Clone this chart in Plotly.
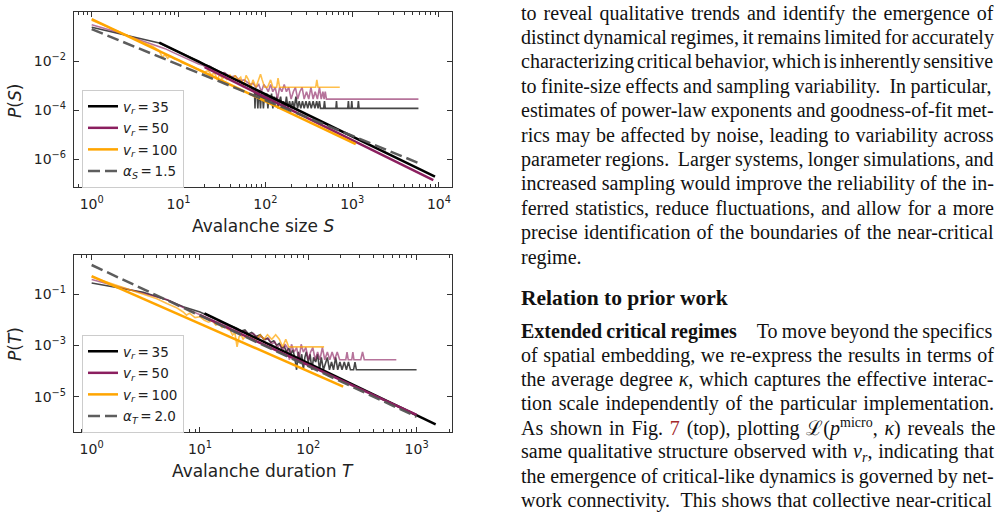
import plotly.graph_objects as go

# ---------------- DATA ----------------
# Top panel: avalanche size distribution P(S)
raw35_S = [(1,2.4e-1),(2,1.35e-1),(3,9.3e-2),(5,6.2e-2),(6,5.4e-2),(8,3.4e-2),(10,2.3e-2),(12,1.7e-2),(14,1.35e-2),(17,1.0e-2),
           (20,7.2e-3),(23,6.0e-3),(26,4.6e-3),(30,3.6e-3),(34,3.0e-3),(38,2.4e-3),(43,1.9e-3),(48,1.7e-3),(54,1.3e-3),(60,1.1e-3),
           (66,9e-4),(72,7e-4),(75,5.9e-4),(76,1.17e-4),(77,5.9e-4),(80,4.7e-4),(82,1.17e-4),(84,5.9e-4),(86,3.5e-4),(88,1.17e-4),
           (90,4.7e-4),(93,3.5e-4),(95,1.17e-4),(98,4.7e-4),(101,2.3e-4),(104,4.7e-4),(107,1.17e-4),(110,3.5e-4),(114,2.3e-4),(118,4.7e-4),
           (122,1.17e-4),(126,3.5e-4),(130,2.3e-4),(135,3.5e-4),(140,1.17e-4),(145,2.3e-4),(150,3.5e-4),(156,1.17e-4),(162,2.3e-4),(168,1.17e-4),
           (175,3.5e-4),(182,1.17e-4),(190,2.3e-4),(198,1.17e-4),(206,2.3e-4),(215,1.17e-4),(225,3.5e-4),(235,1.17e-4),(245,2.3e-4),(256,1.17e-4),
           (268,2.3e-4),(280,1.17e-4),(294,2.3e-4),(308,1.17e-4),(322,2.3e-4),(338,1.17e-4),(355,2.3e-4),(372,1.17e-4),(390,2.3e-4),(405,1.17e-4),
           (420,2.3e-4),(432,1.17e-4),(470,1.17e-4),(480,2.3e-4),(490,1.17e-4),(650,1.17e-4),(660,2.3e-4),(670,1.17e-4),(890,1.17e-4),(905,2.3e-4),
           (920,1.17e-4),(975,1.17e-4),(990,2.3e-4),(1005,1.17e-4),(1160,1.17e-4),(1180,2.3e-4),(1200,1.17e-4),(5800,1.17e-4)]
raw50_S = [(1,3.0e-1),(2,1.5e-1),(3,9.0e-2),(5,5.0e-2),(7,3.2e-2),(9,2.1e-2),(11,1.5e-2),(13,1.15e-2),(15,9.5e-3),(17,7.5e-3),
           (19,6.8e-3),(21,5.2e-3),(23,6.0e-3),(25,4.4e-3),(28,4.0e-3),(31,3.2e-3),(34,3.4e-3),(37,2.6e-3),(41,2.3e-3),(45,2.5e-3),
           (49,1.8e-3),(53,1.6e-3),(57,1.7e-3),(62,1.3e-3),(67,1.1e-3),(72,1.25e-3),(78,8.4e-4),(84,1.1e-3),(90,5.6e-4),(96,1.1e-3),
           (102,8.4e-4),(108,5.6e-4),(115,1.1e-3),(122,5.6e-4),(130,8.4e-4),(138,2.8e-4),(146,8.4e-4),(155,5.6e-4),(165,1.1e-3),(175,5.6e-4),
           (186,8.4e-4),(198,2.8e-4),(210,5.6e-4),(222,8.4e-4),(236,2.8e-4),(250,5.6e-4),(265,8.4e-4),(280,2.8e-4),(298,5.6e-4),(316,2.8e-4),
           (335,8.4e-4),(355,2.8e-4),(375,5.6e-4),(398,2.8e-4),(420,8.4e-4),(440,2.8e-4),(460,5.6e-4),(475,2.8e-4),(490,5.6e-4),(505,2.8e-4),
           (5800,2.8e-4)]
raw100_S = [(1,4.6e-1),(2,1.7e-1),(3,9.0e-2),(4,5.5e-2),(5,4.0e-2),(6,2.6e-2),(6.5,1.4e-2),(7,1.8e-2),(7.5,1.3e-2),(8,1.6e-2),
            (9,1.2e-2),(10,1.1e-2),(11,8.5e-3),(12,7.5e-3),(14,6.3e-3),(16,5.0e-3),(18,4.3e-3),(20,3.6e-3),(22,4.0e-3),(24,2.7e-3),
            (26,3.3e-3),(28,1.7e-3),(30,3.0e-3),(32,1.8e-3),(34,2.6e-3),(36,1.7e-3),(39,2.8e-3),(42,1.7e-3),(45,2.6e-3),(48,1.7e-3),
            (52,2.2e-3),(56,8.5e-4),(60,2.6e-3),(64,1.7e-3),(68,8.5e-4),(72,1.7e-3),(78,8.5e-4),(84,1.7e-3),(88,2.9e-3),(92,1.7e-3),
            (98,8.5e-4),(106,8.5e-4),(115,1.7e-3),(122,8.5e-4),(135,8.5e-4),(140,2.0e-3),(146,8.5e-4),(380,8.5e-4),(392,1.7e-3),(404,8.5e-4),
            (720,8.5e-4)]
fit35_S = [(6, 5.6e-2), (9000, 1.9e-7)]
fit50_S = [(20, 5.6e-3), (8600, 1.38e-7)]
fit100_S = [(1, 5.1e-1), (1100, 4.1e-6)]
ref15_S = [(1, 2.0e-1), (6000, 6.6e-7)]

# Bottom panel: avalanche duration distribution P(T)
raw35_T = [(1,2.7e-1),(2,1.65e-1),(3,1.17e-1),(5,5.9e-2),(7,3.2e-2),(10,2.0e-2),(12,1.45e-2),(14,1.05e-2),(16,8.0e-3),(18,6.6e-3),
           (20,5.2e-3),(22,4.6e-3),(24,3.6e-3),(26,4.0e-3),(28,2.8e-3),(30,3.2e-3),(33,2.2e-3),(36,2.6e-3),(39,1.7e-3),(42,1.9e-3),
           (45,1.3e-3),(48,1.5e-3),(51,1.0e-3),(54,1.2e-3),(57,7.8e-4),(60,9.0e-4),(63,5.6e-4),(66,7.8e-4),(69,4.5e-4),(72,6.7e-4),
           (75,3.4e-4),(78,1.12e-4),(81,5.6e-4),(84,2.24e-4),(87,4.5e-4),(90,1.12e-4),(93,3.4e-4),(96,5.6e-4),(100,2.24e-4),(104,4.5e-4),
           (108,1.12e-4),(112,3.4e-4),(117,2.24e-4),(122,4.5e-4),(127,1.12e-4),(132,3.4e-4),(138,1.12e-4),(144,2.24e-4),(150,3.4e-4),(157,1.12e-4),
           (164,2.24e-4),(171,1.12e-4),(179,3.4e-4),(187,1.12e-4),(196,2.24e-4),(205,1.12e-4),(215,2.24e-4),(225,1.12e-4),(235,2.24e-4),(245,1.12e-4),
           (262,1.12e-4),(270,2.24e-4),(278,1.12e-4),(1000,1.12e-4)]
raw50_T = [(1,3.7e-1),(2,1.65e-1),(3,1.05e-1),(5,6.0e-2),(7,3.0e-2),(9,1.9e-2),(10,1.6e-2),(12,1.2e-2),(14,8.5e-3),(16,7.5e-3),
           (18,5.5e-3),(20,5.0e-3),(22,3.8e-3),(24,3.3e-3),(26,3.6e-3),(28,2.6e-3),(31,2.9e-3),(34,2.0e-3),(37,2.2e-3),(40,1.65e-3),
           (43,1.9e-3),(46,1.1e-3),(49,1.4e-3),(52,8.25e-4),(55,1.1e-3),(58,5.5e-4),(61,1.1e-3),(64,8.25e-4),(67,2.75e-4),(70,1.1e-3),
           (74,5.5e-4),(78,8.25e-4),(82,2.75e-4),(86,1.1e-3),(90,5.5e-4),(95,8.25e-4),(100,2.75e-4),(105,5.5e-4),(110,8.25e-4),(116,2.75e-4),
           (122,5.5e-4),(128,2.75e-4),(135,8.25e-4),(142,2.75e-4),(150,5.5e-4),(158,2.75e-4),(166,5.5e-4),(175,2.75e-4),(185,5.5e-4),(195,2.75e-4),
           (222,2.75e-4),(228,5.5e-4),(234,2.75e-4),(252,2.75e-4),(258,5.5e-4),(264,2.75e-4),(305,2.75e-4),(317,5.5e-4),(329,2.75e-4),(650,2.75e-4)]
raw100_T = [(1,4.6e-1),(2,1.7e-1),(3,9.5e-2),(4,6.5e-2),(5,4.2e-2),(6,3.0e-2),(7,2.0e-2),(7.5,1.5e-2),(8,1.8e-2),(9,1.2e-2),
            (10,1.3e-2),(11,9.5e-3),(12,8.0e-3),(13,9.0e-3),(14,6.2e-3),(15,6.8e-3),(16,5.0e-3),(17,5.6e-3),(18,4.2e-3),(19,3.8e-3),
            (20,2.5e-3),(21,3.2e-3),(22,8.7e-4),(23,2.2e-3),(24,2.6e-3),(25,1.74e-3),(27,2.6e-3),(29,1.74e-3),(31,2.2e-3),(33,1.74e-3),
            (36,2.6e-3),(39,1.74e-3),(42,2.6e-3),(46,1.74e-3),(50,2.6e-3),(54,1.74e-3),(58,8.7e-4),(62,1.74e-3),(66,8.7e-4),(140,8.7e-4)]
fit35_T = [(11, 1.78e-2), (1500, 8.3e-7)]
fit50_T = [(10, 1.5e-2), (1000, 1.95e-6)]
fit100_T = [(1, 5.0e-1), (210, 2.45e-5)]
ref20_T = [(1, 1.35), (1000, 1.65e-6)]

legend_labels = ["<i>v</i><sub><i>r</i></sub>\u2009=\u200935",
                 "<i>v</i><sub><i>r</i></sub>\u2009=\u200950",
                 "<i>v</i><sub><i>r</i></sub>\u2009=\u2009100"]
ref_labels = ["<i>α</i><sub><i>S</i></sub>\u2009=\u20091.5", "<i>α</i><sub><i>T</i></sub>\u2009=\u20092.0"]

x_top_ticks = [1, 10, 100, 1000, 10000]
x_top_text = ["10<sup>0</sup>", "10<sup>1</sup>", "10<sup>2</sup>", "10<sup>3</sup>", "10<sup>4</sup>"]
y_top_ticks = [1e-2, 1e-4, 1e-6]
y_top_text = ["10<sup>−2</sup>", "10<sup>−4</sup>", "10<sup>−6</sup>"]
x_bot_ticks = [1, 10, 100, 1000]
x_bot_text = ["10<sup>0</sup>", "10<sup>1</sup>", "10<sup>2</sup>", "10<sup>3</sup>"]
y_bot_ticks = [1e-1, 1e-3, 1e-5]
y_bot_text = ["10<sup>−1</sup>", "10<sup>−3</sup>", "10<sup>−5</sup>"]

# page text, as (text, kind) segments per line; last flag = justified
text_block1 = [
    ([("to reveal qualitative trends and identify the emergence of", "r")], True),
    ([("distinct dynamical regimes, it remains limited for accurately", "r")], True),
    ([("characterizing critical behavior, which is inherently sensitive", "r")], True),
    ([("to finite-size effects and sampling variability.  In particular,", "r")], True),
    ([("estimates of power-law exponents and goodness-of-fit met-", "r")], True),
    ([("rics may be affected by noise, leading to variability across", "r")], True),
    ([("parameter regions.  Larger systems, longer simulations, and", "r")], True),
    ([("increased sampling would improve the reliability of the in-", "r")], True),
    ([("ferred statistics, reduce fluctuations, and allow for a more", "r")], True),
    ([("precise identification of the boundaries of the near-critical", "r")], True),
    ([("regime.", "r")], False),
]
heading = "Relation to prior work"
text_block2 = [
    ([("Extended critical regimes", "b"), ("\u2003", "r"), ("To move beyond the specifics", "r")], True),
    ([("of spatial embedding, we re-express the results in terms of", "r")], True),
    ([("the average degree ", "r"), ("κ", "i"), (", which captures the effective interac-", "r")], True),
    ([("tion scale independently of the particular implementation.", "r")], True),
    ([("As shown in Fig. ", "r"), ("7", "link"), (" (top), plotting ", "r"), ("ℒ", "r"), ("(", "r"), ("p", "i"),
      ("micro", "sup"), (", ", "r"), ("κ", "i"), (") reveals the", "r")], True),
    ([("same qualitative structure observed with ", "r"), ("v", "i"), ("r", "isub"), (", indicating that", "r")], True),
    ([("the emergence of critical-like dynamics is governed by net-", "r")], True),
    ([("work connectivity.  This shows that collective near-critical", "r")], True),
]

# ---------------- STYLE ----------------
W, H = 1007, 515
C35, C50, C100, CREF = "#000000", "#8b1f5f", "#ffa500", "#555555"
AX = "#333333"
SANS = "DejaVu Sans"
SERIF = "Liberation Serif"
BODY = 20
TEXT_LEFT, TEXT_RIGHT = 522, 995

# approximate Times (Liberation Serif) advance widths, per 1000 em
_REG = dict(zip(" abcdefghijklmnopqrstuvwxyz,.-()7",
                [250,444,500,444,500,444,333,500,500,278,278,500,278,778,500,500,500,500,333,389,278,500,500,722,500,500,444,250,250,333,333,333,500]))
_REG.update({"A": 722, "I": 333, "L": 611, "T": 611, "F": 556, "\u2003": 1000, "ℒ": 780})
_BOLD = dict(zip(" abcdefghijklmnopqrstuvwxyz",
                 [250,500,556,444,556,444,333,500,556,278,333,556,278,833,556,500,556,556,444,389,333,556,500,722,500,500,444]))
_BOLD.update({"E": 667, "R": 722})
_ITAL = {"κ": 480, "p": 500, "v": 444, "r": 389}


def seg_width(txt, kind):
    if kind == "b":
        table, scale = _BOLD, 1.0
    elif kind in ("i", "isub"):
        table, scale = _ITAL, (0.7 if kind == "isub" else 1.0)
    else:
        table, scale = _REG, (0.7 if kind == "sup" else 1.0)
    return sum(table.get(ch, 500) for ch in txt) / 1000.0 * BODY * scale


def seg_html(txt, kind):
    if kind == "b":
        return "<b>" + txt + "</b>"
    if kind == "i":
        return "<i>" + txt + "</i>"
    if kind == "isub":
        return "<sub><i>" + txt + "</i></sub>"
    if kind == "sup":
        return "<sup>" + txt + "</sup>"
    if kind == "link":
        return "<span style='color:#a3272b'>" + txt + "</span>"
    return txt


def line_html(segs, justify):
    html = "".join(seg_html(t, k) for t, k in segs)
    if not justify:
        return html
    natural = sum(seg_width(t, k) for t, k in segs)
    nsp = sum(t.count(" ") for t, _ in segs)
    ws = (TEXT_RIGHT - TEXT_LEFT - natural) / max(nsp, 1)
    return "<span style='word-spacing:%.2fpx'>%s</span>" % (ws, html)


def px_x(p):
    return p / W


def px_y(p):
    return 1 - p / H


def split(pairs):
    return [a for a, _ in pairs], [b for _, b in pairs]


fig = go.Figure()

panels = [
    ("x", "y", "legend", raw35_S, raw50_S, raw100_S, fit35_S, fit50_S, fit100_S, ref15_S, ref_labels[0]),
    ("x2", "y2", "legend2", raw35_T, raw50_T, raw100_T, fit35_T, fit50_T, fit100_T, ref20_T, ref_labels[1]),
]
for xa, ya, lg, r35, r50, r100, f35, f50, f100, ref, reflab in panels:
    for data, col, op in [(r35, C35, 0.72), (r50, C50, 0.62), (r100, C100, 0.7)]:
        xs, ys = split(data)
        fig.add_trace(go.Scatter(x=xs, y=ys, mode="lines", xaxis=xa, yaxis=ya, opacity=op,
                                 line=dict(color=col, width=1.6), showlegend=False, hoverinfo="skip"))
    for i, (data, col) in enumerate([(f35, C35), (f50, C50), (f100, C100)]):
        xs, ys = split(data)
        fig.add_trace(go.Scatter(x=xs, y=ys, mode="lines", xaxis=xa, yaxis=ya, name=legend_labels[i],
                                 legend=lg, legendgroup=lg + str(i),
                                 line=dict(color=col, width=2.5)))
    xs, ys = split(ref)
    fig.add_trace(go.Scatter(x=xs, y=ys, mode="lines", xaxis=xa, yaxis=ya, name=reflab,
                             legend=lg, legendgroup=lg + "ref", opacity=0.95,
                             line=dict(color=CREF, width=2.5, dash="12px,5px")))


def xaxis_cfg(dom, rng, tv, tt, anchor):
    return dict(type="log", domain=dom, range=rng, tickmode="array", tickvals=tv, ticktext=tt, anchor=anchor,
                ticks="inside", ticklen=5, tickwidth=1.1, tickcolor=AX, showline=True, linecolor=AX,
                linewidth=1.3, mirror="allticks", showgrid=False, zeroline=False,
                tickfont=dict(family=SANS, size=14, color="#222"), ticklabelstandoff=4,
                minor=dict(ticks="inside", ticklen=3, tickwidth=1, tickcolor=AX, dtick="D1", showgrid=False))


def yaxis_cfg(dom, rng, tv, tt, anchor):
    return dict(type="log", domain=dom, range=rng, tickmode="array", tickvals=tv, ticktext=tt, anchor=anchor,
                ticks="inside", ticklen=5, tickwidth=1.1, tickcolor=AX, showline=True, linecolor=AX,
                linewidth=1.3, mirror="allticks", showgrid=False, zeroline=False,
                tickfont=dict(family=SANS, size=14, color="#222"), ticklabelstandoff=4)


legend_style = dict(xanchor="left", yanchor="top", bgcolor="white", bordercolor="#cccccc", borderwidth=1,
                    font=dict(family=SANS, size=13.5, color="#222"), tracegroupgap=1, itemwidth=30)

fig.update_layout(
    width=W, height=H, margin=dict(l=0, r=0, t=0, b=0),
    paper_bgcolor="white", plot_bgcolor="white",
    font=dict(family=SANS, color="#222"),
    xaxis=xaxis_cfg([px_x(74), px_x(452)], [-0.204, 4.15], x_top_ticks, x_top_text, "y"),
    yaxis=yaxis_cfg([px_y(187), px_y(12)], [-7.14, 0.0], y_top_ticks, y_top_text, "x"),
    xaxis2=xaxis_cfg([px_x(74), px_x(452)], [-0.163, 3.327], x_bot_ticks, x_bot_text, "y2"),
    yaxis2=yaxis_cfg([px_y(432), px_y(255)], [-6.375, 0.52], y_bot_ticks, y_bot_text, "x2"),
    legend=dict(x=px_x(82), y=px_y(90), **legend_style),
    legend2=dict(x=px_x(82), y=px_y(335), **legend_style),
)

ann = []
# axis titles
ann.append(dict(text="Avalanche size <i>S</i>", x=px_x(263), y=px_y(226), xref="paper", yref="paper",
                showarrow=False, xanchor="center", yanchor="middle", font=dict(family=SANS, size=17)))
ann.append(dict(text="<i>P</i>(<i>S</i>)", x=px_x(15), y=px_y(101), xref="paper", yref="paper", textangle=-90,
                showarrow=False, xanchor="center", yanchor="middle", font=dict(family=SANS, size=17)))
ann.append(dict(text="Avalanche duration <i>T</i>", x=px_x(263), y=px_y(471), xref="paper", yref="paper",
                showarrow=False, xanchor="center", yanchor="middle", font=dict(family=SANS, size=17)))
ann.append(dict(text="<i>P</i>(<i>T</i>)", x=px_x(15), y=px_y(344), xref="paper", yref="paper", textangle=-90,
                showarrow=False, xanchor="center", yanchor="middle", font=dict(family=SANS, size=17)))

# page text
TX = px_x(TEXT_LEFT - 3)
for k, (segs, just) in enumerate(text_block1):
    ann.append(dict(text=line_html(segs, just), x=TX, y=px_y(13 + 24.4 * k), xref="paper", yref="paper",
                    showarrow=False, xanchor="left", yanchor="middle", align="left",
                    font=dict(family=SERIF, size=BODY, color="#111")))
ann.append(dict(text="<b>" + heading + "</b>", x=TX, y=px_y(298), xref="paper", yref="paper", showarrow=False,
                xanchor="left", yanchor="middle", font=dict(family=SERIF, size=21.5, color="#111")))
for k, (segs, just) in enumerate(text_block2):
    ann.append(dict(text=line_html(segs, just), x=TX, y=px_y(331.5 + 24.1 * k), xref="paper", yref="paper",
                    showarrow=False, xanchor="left", yanchor="middle", align="left",
                    font=dict(family=SERIF, size=BODY, color="#111")))

fig.update_layout(annotations=ann)
fig.write_html("out.html")
